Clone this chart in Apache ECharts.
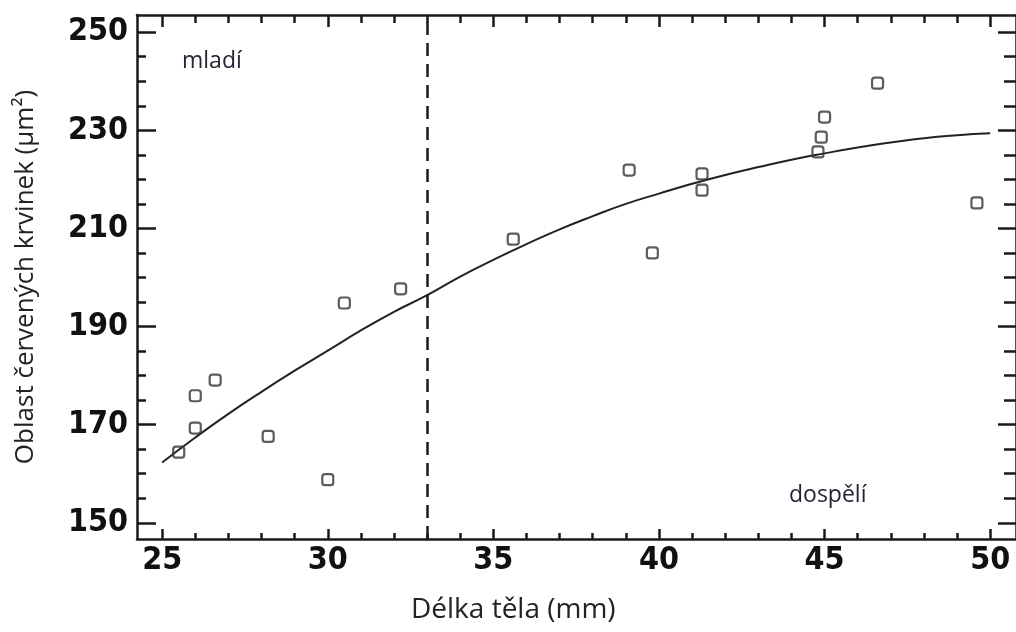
<!DOCTYPE html>
<html>
<head>
<meta charset="utf-8">
<script src="https://cdn.jsdelivr.net/npm/echarts@6/dist/echarts.min.js"></script>
<style>
html,body{margin:0;padding:0;background:#fff;}
#chart{width:1016px;height:632px;}
</style>
</head>
<body>
<div id="chart"></div>
<script>
// Body length (mm) of individuals
const bodyLength = [25.5, 26.0, 26.0, 26.6, 28.2, 30.0, 30.5, 32.2, 35.6, 39.1, 39.8, 41.3, 41.3, 44.8, 44.9, 45.0, 46.6, 49.6];
// Red blood cell area (µm²)
const rbcArea    = [164.4, 169.3, 175.9, 179.1, 167.6, 158.8, 194.8, 197.7, 207.8, 221.9, 205.0, 221.1, 217.8, 225.6, 228.6, 232.7, 239.6, 215.2];
// Fitted curve
const fitX = [25, 26, 27, 28, 29, 30, 31, 32, 33, 34, 35, 36, 37, 38, 39, 40, 41, 42, 43, 44, 45, 46, 47, 48, 49, 50];
const fitY = [162.3, 167.4, 172.2, 176.7, 181.0, 185.1, 189.2, 193.0, 196.4, 200.2, 203.6, 206.8, 209.8, 212.5, 215.0, 217.1, 219.1, 220.9, 222.5, 224.0, 225.3, 226.5, 227.5, 228.4, 229.0, 229.4];
// Boundary between juveniles and adults
const boundaryX = 33.0;
// Tick values
const xMajorTicks = [25, 30, 35, 40, 45, 50];
const xMinorTicks = [25,26,27,28,29,30,31,32,33,34,35,36,37,38,39,40,41,42,43,44,45,46,47,48,49,50];
const yMajorTicks = [150, 170, 190, 210, 230, 250];
const yMinorTicks = [150,155,160,165,170,175,180,185,190,195,200,205,210,215,220,225,230,235,240,245,250];
const xRange = [24.24, 50.78];
const yRange = [146.7, 253.5];
const labels = {x: 'Délka těla (mm)', y: 'Oblast červených krvinek (μm²)', young: 'mladí', adult: 'dospělí'};

const ink = '#1a1a1a';
const tickFont = {fontFamily: '"Liberation Sans Narrow", "DejaVu Sans Condensed", sans-serif', fontWeight: 'bold', fontSize: 32, color: '#111'};
const titleFont = '"Open Sans", "Noto Sans", sans-serif';

function xAx(pos, values, len, showLabel, showLine) {
  return {
    type: 'value', position: pos, min: xRange[0], max: xRange[1],
    axisLine: {show: showLine, onZero: false, lineStyle: {color: ink, width: 2.5}},
    axisTick: {show: true, inside: true, length: len, customValues: values, lineStyle: {color: ink, width: 2.5}},
    axisLabel: {show: showLabel, customValues: values, margin: 6, ...tickFont},
    splitLine: {show: false}
  };
}
function yAx(pos, values, len, showLabel, showLine) {
  return {
    type: 'value', position: pos, min: yRange[0], max: yRange[1],
    axisLine: {show: showLine, onZero: false, lineStyle: {color: ink, width: 2.5}},
    axisTick: {show: true, inside: true, length: len, customValues: values, lineStyle: {color: ink, width: 2.5}},
    axisLabel: {show: showLabel, customValues: values, margin: 9, ...tickFont},
    splitLine: {show: false}
  };
}

const chart = echarts.init(document.getElementById('chart'), null, {renderer: 'canvas'});
chart.setOption({
  animation: false,
  backgroundColor: '#fff',
  grid: {left: 137, width: 883, top: 15, bottom: 93, containLabel: false},
  xAxis: [
    xAx('bottom', xMajorTicks, 10, true, true),
    xAx('bottom', xMinorTicks, 6, false, false),
    xAx('top', xMajorTicks, 12, false, true),
    xAx('top', xMinorTicks, 8, false, false)
  ],
  yAxis: [
    yAx('left', yMajorTicks, 19, true, true),
    yAx('left', yMinorTicks, 9, false, false),
    yAx('right', yMajorTicks, 18, false, true),
    yAx('right', yMinorTicks, 12, false, false)
  ],
  graphic: [
    {type: 'text', left: 411, top: 596, style: {text: labels.x, font: '28px ' + titleFont, fill: '#222'}},
    {type: 'text', x: 13, y: 277, rotation: Math.PI / 2, style: {text: labels.y, font: '26px ' + titleFont, fill: '#222', align: 'center', verticalAlign: 'top'}},
    {type: 'text', left: 182, top: 50, style: {text: labels.young, font: '23px ' + titleFont, fill: '#2a2233'}},
    {type: 'text', left: 789, top: 484, style: {text: labels.adult, font: '23px ' + titleFont, fill: '#2a2233'}}
  ],
  series: [
    {
      type: 'line', xAxisIndex: 0, yAxisIndex: 0,
      data: fitX.map((x, i) => [x, fitY[i]]),
      smooth: true, showSymbol: false, symbol: 'none',
      lineStyle: {color: '#222', width: 2},
      markLine: {
        silent: true, symbol: 'none', label: {show: false},
        lineStyle: {color: ink, width: 2.5, type: [13, 8]},
        data: [[{coord: [boundaryX, yRange[0]]}, {coord: [boundaryX, yRange[1]]}]]
      },
      z: 2
    },
    {
      type: 'scatter', xAxisIndex: 0, yAxisIndex: 0,
      data: bodyLength.map((x, i) => [x, rbcArea[i]]),
      symbol: 'roundRect', symbolSize: 11,
      itemStyle: {color: 'rgba(255,255,255,0)', borderColor: '#333', borderWidth: 2.2},
      z: 3
    }
  ]
});
</script>
</body>
</html>
